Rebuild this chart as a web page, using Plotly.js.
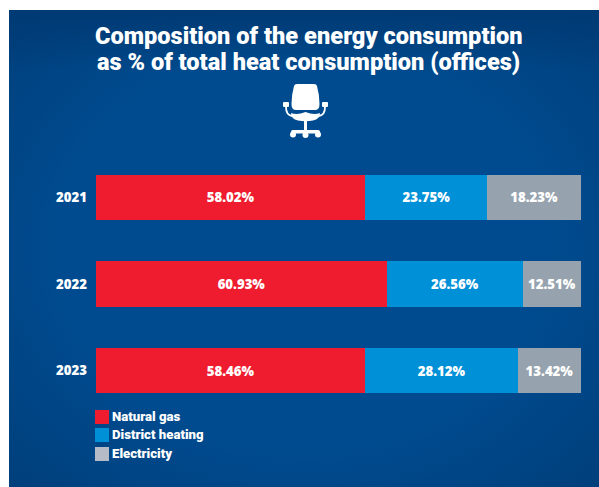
<!DOCTYPE html>
<html><head><meta charset="utf-8">
<script src="https://cdn.plot.ly/plotly-3.0.1.min.js"></script>
<style>
html,body{margin:0;padding:0;background:#fff;overflow:hidden}
#panel{position:absolute;left:9px;top:10px;width:590px;height:477px;
background:linear-gradient(#003a74 0,rgba(0,60,120,0) 60px),radial-gradient(ellipse at 50% 50%,#004b8f 0%,#004b8f 58%,#003f7b 100%)}
#chart{position:absolute;left:0;top:0;width:599px;height:487px}
</style></head><body>
<div id="panel"></div><div id="chart"></div>
<script>
const years = ['2021','2022','2023'];
// Drawn segment lengths (% of bar length).
const gasDrawn = [55.5, 60.0, 55.5];
const heatDrawn = [25.2, 28.0, 31.5];
const elecDrawn = [19.3, 12.0, 13.0];
// Printed labels as shown in the picture.
const gasLabels = ['58.02%','60.93%','58.46%'];
const heatLabels = ['23.75%','26.56%','28.12%'];
const elecLabels = ['18.23%','12.51%','13.42%'];
const names = ['Natural gas','District heating','Electricity'];
const colors = ['#ee1c2e','#0090d7','#96a3ae'];
const legendColors = ['#ee1c2e','#0090d7','#b5bcc8'];
const titleLines = ['Composition of the energy consumption','as % of total heat consumption (offices)'];

const M={l:96,r:18,t:154,b:73}, W=599, H=487;
const px=x=>(x-M.l)/(W-M.l-M.r), py=y=>1-(y-M.t)/(H-M.t-M.b);
const condensed = 'Roboto,sans-serif';
const labelFont = {family:'"Open Sans",sans-serif',size:13.2,color:'#fff',weight:800};
function seg(i,x,t){return {type:'bar',orientation:'h',y:years,x:x,name:names[i],text:t,
  textposition:'inside',insidetextanchor:'middle',textangle:0,constraintext:'none',
  textfont:labelFont,marker:{color:colors[i],line:{width:0}},hoverinfo:'skip',showlegend:false};}
const data=[seg(0,gasDrawn,gasLabels),seg(1,heatDrawn,heatLabels),seg(2,elecDrawn,elecLabels)];

const chair = `<svg xmlns="http://www.w3.org/2000/svg" viewBox="0 0 45 54" width="45" height="54"><g fill="#fff">
<path d="M11 2 Q11.5 0 14 0 H31 Q33.5 0 34 2 Q36.5 11 36.500 20 Q36.500 26 32 26 H13 Q8.500 26 8.500 20 Q8.500 11 11 2Z"/>
<path d="M8 29 Q14 31.500 22.500 28 Q31 31.500 37 29 Q37 35 30 36.500 Q22.500 38 15 36.500 Q8 35 8 29Z"/>
<rect x="21" y="37" width="3" height="10"/>
<rect x="8" y="46" width="29" height="3.6" rx="1.800"/>
<circle cx="10" cy="50.500" r="3"/><circle cx="22.500" cy="51" r="3"/><circle cx="35" cy="50.500" r="3"/>
<rect x="0" y="18" width="6" height="5" rx="1"/><rect x="39" y="18" width="6" height="5" rx="1"/>
</g><g fill="none" stroke="#fff" stroke-width="1.800"><path d="M3 23 Q3 31 9 32"/><path d="M42 23 Q42 31 36 32"/></g></svg>`;

const annotations = titleLines.map((t,i)=>({xref:'paper',yref:'paper',x:px(308.5),y:py(36+i*26.5),
  text:t,showarrow:false,xanchor:'center',yanchor:'middle',
  font:{family:condensed,size:23.6,color:'#fff',weight:900}}));
const shapes=[];
const legendY=[417,435,454];
names.forEach((n,i)=>{
  const yc=legendY[i];
  annotations.push({xref:'paper',yref:'paper',x:px(112),y:py(yc-1),text:n,showarrow:false,
    xanchor:'left',yanchor:'middle',borderpad:0,borderwidth:0,font:{family:condensed,size:13.2,color:'#fff',weight:900}});
  shapes.push({type:'rect',xref:'paper',yref:'paper',x0:px(95),x1:px(109),y0:py(yc-7),y1:py(yc+7),
    fillcolor:legendColors[i],line:{width:0}});
});

const layout={width:W,height:H,paper_bgcolor:'rgba(0,0,0,0)',plot_bgcolor:'rgba(0,0,0,0)',
  margin:M,barmode:'stack',bargap:0.48,showlegend:false,
  xaxis:{range:[0,100],visible:false,fixedrange:true},
  yaxis:{autorange:'reversed',type:'category',showgrid:false,zeroline:false,showline:false,ticks:'',
    ticklabelstandoff:8,tickfont:{family:'"Open Sans",sans-serif',size:13.2,color:'#fff',weight:800}},
  annotations:annotations,shapes:shapes,
  images:[{source:'data:image/svg+xml;utf8,'+encodeURIComponent(chair),xref:'paper',yref:'paper',
    x:px(283),y:py(84),sizex:45/(W-M.l-M.r),sizey:54/(H-M.t-M.b),sizing:'stretch',xanchor:'left',yanchor:'top',layer:'above'}]};
Plotly.newPlot('chart',data,layout,{staticPlot:true,displayModeBar:false});
</script></body></html>
